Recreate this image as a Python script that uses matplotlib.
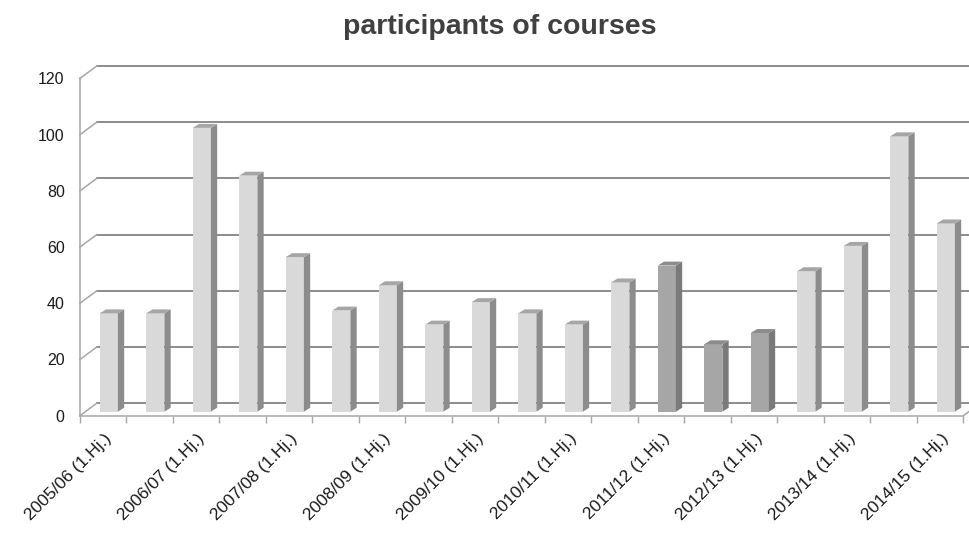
import numpy as np
import matplotlib
matplotlib.use('Agg')
import matplotlib.pyplot as plt
from matplotlib.patches import Polygon
from matplotlib.transforms import ScaledTranslation

plt.rcParams['font.family'] = ['Liberation Sans', 'DejaVu Sans']

# data
seasons = ['2005/06', '2006/07', '2007/08', '2008/09', '2009/10',
           '2010/11', '2011/12', '2012/13', '2013/14', '2014/15']
categories = []
for s in seasons:
    categories.append(s + ' (1.Hj.)')
    if s != seasons[-1]:
        categories.append(s + ' (2.Hj.)')
participants = [35, 35, 101, 84, 55, 36, 45, 31, 39, 35,
                31, 46, 52, 24, 28, 50, 59, 98, 67]
highlighted = ['2011/12 (1.Hj.)', '2011/12 (2.Hj.)', '2012/13 (1.Hj.)']
y_ticks = [0, 20, 40, 60, 80, 100, 120]

# fake 3d depth (data units)
DEPTH_X, DEPTH_Y = 0.36, 4.4
BAR_W, BAR_SHIFT, BAR_BASE = 0.39, 0.12, 1.4
SIDE_X, SIDE_Y = 0.135, 1.4
GRID_C = '#8c8c8c'
AXIS_C = '#a6a6a6'

fig = plt.figure(figsize=(9.7, 5.33), dpi=100)
ax = fig.add_axes([80 / 970, (533 - 415.6) / 533, 19.7 * 46.5 / 970, 125 * 2.81 / 533])
ax.set_xlim(-0.5, 19.2)
ax.set_ylim(0, 125)
n = len(categories)
x = np.arange(n)

# back wall gridlines with diagonal connectors
for v in y_ticks:
    ax.plot([-0.5 + DEPTH_X, n - 0.5 + DEPTH_X], [v + DEPTH_Y, v + DEPTH_Y],
            color=GRID_C, lw=1.4, zorder=1, clip_on=False)
    ax.plot([-0.5, -0.5 + DEPTH_X], [v, v + DEPTH_Y], color=AXIS_C, lw=1.1,
            zorder=1, clip_on=False)
ax.plot([n - 0.5, n - 0.5 + DEPTH_X], [0, DEPTH_Y], color=AXIS_C, lw=1.1,
        zorder=1, clip_on=False)

# bars: front face, side and top
for xi, cat, v in zip(x, categories, participants):
    dark = cat in highlighted
    front = '#a6a6a6' if dark else '#d9d9d9'
    side = '#7a7a7a' if dark else '#8c8c8c'
    top = '#8c8c8c' if dark else '#a6a6a6'
    xl = xi + BAR_SHIFT - BAR_W / 2
    xr = xi + BAR_SHIFT + BAR_W / 2
    yt = BAR_BASE + v
    ax.bar(xi + BAR_SHIFT, v, width=BAR_W, bottom=BAR_BASE, color=front,
           edgecolor='none', zorder=3)
    ax.add_patch(Polygon([(xr, BAR_BASE), (xr, yt), (xr + SIDE_X, yt + SIDE_Y),
                          (xr + SIDE_X, BAR_BASE + SIDE_Y)],
                         closed=True, fc=side, ec='none', zorder=3))
    ax.add_patch(Polygon([(xl, yt), (xr, yt), (xr + SIDE_X, yt + SIDE_Y),
                          (xl + SIDE_X, yt + SIDE_Y)],
                         closed=True, fc=top, ec='none', zorder=3))

# axes lines
for side in ['top', 'right']:
    ax.spines[side].set_visible(False)
ax.spines['left'].set_bounds(0, 120)
ax.spines['bottom'].set_bounds(-0.5, n - 0.5)
for side in ['left', 'bottom']:
    ax.spines[side].set_color(AXIS_C)
    ax.spines[side].set_linewidth(1.1)

ax.set_yticks(y_ticks)
ax.set_yticklabels([str(v) for v in y_ticks])
ax.tick_params(axis='y', length=0, pad=11, labelsize=11.5, labelcolor='#1a1a1a')

ax.set_xticks(x[::2])
ax.set_xticklabels(categories[::2])
ax.set_xticks(np.arange(-0.5, n, 1.0), minor=True)
ax.tick_params(axis='x', which='major', length=0, pad=15, labelsize=12.5,
               labelcolor='#1a1a1a')
ax.tick_params(axis='x', which='minor', length=5, width=1.0, color=AXIS_C,
               direction='out')
shift = ScaledTranslation(6 / 100, 0, fig.dpi_scale_trans)
for lab in ax.get_xticklabels():
    lab.set_rotation(45)
    lab.set_ha('right')
    lab.set_va('center')
    lab.set_rotation_mode('anchor')
    lab.set_transform(lab.get_transform() + shift)

fig.text(0.515, 0.950, 'participants of courses', ha='center', va='center',
         fontsize=20.5, fontweight='bold', color='#404040')

fig.savefig('out.png', dpi=100)
